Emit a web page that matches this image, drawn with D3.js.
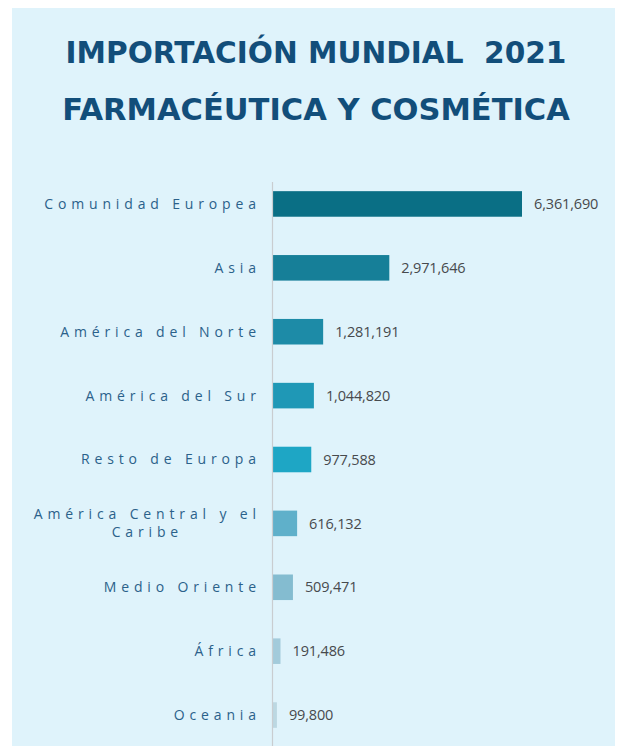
<!DOCTYPE html>
<html>
<head>
<meta charset="utf-8">
<script src="https://cdn.jsdelivr.net/npm/d3@7/dist/d3.min.js"></script>
<style>
  html, body { margin: 0; padding: 0; background: #ffffff; }
  svg { display: block; }
</style>
</head>
<body>
<svg id="chart" width="617" height="746"></svg>
<script>
// Regions and their 2021 import values (pharmaceutical & cosmetic products)
const regions = [
  "Comunidad Europea",
  "Asia",
  "América del Norte",
  "América del Sur",
  "Resto de Europa",
  "América Central y el Caribe",
  "Medio Oriente",
  "África",
  "Oceania"
];
const imports = [6361690, 2971646, 1281191, 1044820, 977588, 616132, 509471, 191486, 99800];
const barColors = ["#0a6f85", "#167f98", "#1d8ba7", "#1f98b6", "#1ea6c5", "#5fb0ca", "#84bcd0", "#a3cbdb", "#bcd8e2"];
const titleLines = ["IMPORTACIÓN MUNDIAL  2021", "FARMACÉUTICA Y COSMÉTICA"];

const W = 617, H = 746;
const svg = d3.select("#chart");

// Light blue panel
svg.append("rect")
  .attr("x", 12).attr("y", 8)
  .attr("width", W - 14).attr("height", H - 8)
  .attr("fill", "#dff3fb");

// Title, two centred lines
const titleG = svg.append("g");
const titleBase = [63, 120];
const titleWidth = [501, 508];
titleLines.forEach((t, i) => {
  const txt = titleG.append("text")
    .attr("x", 316).attr("y", titleBase[i])
    .attr("text-anchor", "middle")
    .attr("fill", "#124e7a")
    .style("font-family", "'DejaVu Sans', sans-serif")
    .style("font-weight", "bold")
    .style("font-size", "32px")
    .style("white-space", "pre")
    .text(t);
  const w = txt.node().getComputedTextLength();
  txt.style("font-size", (32 * titleWidth[i] / w).toFixed(2) + "px");
});

// Scales
const x0 = 273;
const x = d3.scaleLinear().domain([0, d3.max(imports)]).range([0, 249]);
const y = d3.scaleBand().domain(regions).range([172, 747]).paddingInner(0.6).paddingOuter(0.3);

const data = regions.map((r, i) => ({ region: r, value: imports[i], color: barColors[i] }));

// Bars
svg.append("g").selectAll("rect")
  .data(data).join("rect")
  .attr("x", x0)
  .attr("y", d => y(d.region))
  .attr("width", d => x(d.value))
  .attr("height", y.bandwidth())
  .attr("fill", d => d.color);

// Vertical axis line
svg.append("line")
  .attr("x1", x0 - 0.5).attr("x2", x0 - 0.5)
  .attr("y1", 182).attr("y2", H)
  .attr("stroke", "#c9cdd0").attr("stroke-width", 1.2);

// Value labels
const fmt = d3.format(",");
svg.append("g").selectAll("text")
  .data(data).join("text")
  .attr("x", d => x0 + x(d.value) + 12)
  .attr("y", d => y(d.region) + y.bandwidth() / 2)
  .attr("dy", "0.36em")
  .attr("fill", "#474a4d")
  .style("font-family", "'Open Sans', sans-serif")
  .style("font-size", "14.5px")
  .style("letter-spacing", "-0.15px")
  .text(d => fmt(d.value));

// Category labels with letter spacing; long labels wrap, lines centred in the block
const spacing = 4.85;
const labelRight = 256 + spacing; // trailing letter-spacing sits past the last glyph
const maxLabelW = 240;
const labelG = svg.append("g");
data.forEach(d => {
  const cy = y(d.region) + y.bandwidth() / 2;
  const mk = () => labelG.append("text")
    .attr("fill", "#2b618a")
    .style("font-family", "'Open Sans', sans-serif")
    .style("font-size", "14px")
    .style("letter-spacing", spacing + "px");
  const words = d.region.split(" ");
  const lines = [];
  let cur = [];
  const probe = mk();
  words.forEach(wd => {
    const test = cur.concat([wd]).join(" ");
    probe.text(test);
    if (probe.node().getComputedTextLength() > maxLabelW && cur.length) {
      lines.push(cur.join(" "));
      cur = [wd];
    } else {
      cur.push(wd);
    }
  });
  lines.push(cur.join(" "));
  probe.remove();

  const lh = 18;
  const top = cy - (lines.length - 1) * lh / 2;
  if (lines.length === 1) {
    mk().attr("x", labelRight).attr("y", cy).attr("dy", "0.35em")
      .attr("text-anchor", "end").text(lines[0]);
  } else {
    // width of widest line defines the block; lines centred inside it
    const tmp = mk().text(lines[0]);
    let wmax = 0;
    lines.forEach(l => { tmp.text(l); wmax = Math.max(wmax, tmp.node().getComputedTextLength()); });
    tmp.remove();
    const cx = labelRight - wmax / 2;
    lines.forEach((l, k) => {
      mk().attr("x", cx).attr("y", top + k * lh).attr("dy", "0.35em")
        .attr("text-anchor", "middle").text(l);
    });
  }
});
</script>
</body>
</html>
